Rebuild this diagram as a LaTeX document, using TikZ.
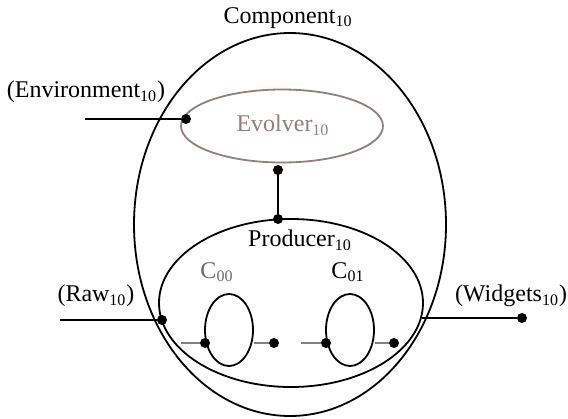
\documentclass[tikz,border=0pt]{standalone}
\usepackage{fontspec}
\setmainfont{Liberation Serif}
\usetikzlibrary{shapes.geometric}
\definecolor{evolvergray}{RGB}{145,128,128}
\definecolor{feedgray}{RGB}{128,128,128}
\definecolor{cgray}{RGB}{105,105,105}
\tikzset{
	part/.style={draw, ellipse, line width=0.9pt, inner sep=0pt},
	port/.style={circle, fill=black, inner sep=0pt, minimum size=5pt},
	wire/.style={line width=0.9pt},
	feed/.style={line width=0.8pt, draw=feedgray},
	lbl/.style={font=\fontsize{12}{14}\selectfont, inner sep=0pt}
}
\begin{document}
\begin{tikzpicture}[x=0.5pt,y=-0.5pt]
		\useasboundingbox (0,0) rectangle (568,418);

		\node[part, minimum width=156pt, minimum height=191.5pt] (component) at (290,224.5) {};
		\node[part, draw=evolvergray, minimum width=101pt, minimum height=36.5pt] (evolver) at (282,126) {};
		\node[part, minimum width=132pt, minimum height=84pt] (producer) at (291,303) {};
		\node[part, minimum width=24pt, minimum height=36pt] (c00) at (229,330) {};
		\node[part, minimum width=24pt, minimum height=36pt] (c01) at (350,330) {};

		\node[lbl] (componentlabel) at (288,18) {Component\textsubscript{10}};
		\node[lbl, text=evolvergray] (evolverlabel) at (283,125) {Evolver\textsubscript{10}};
		\node[lbl] (producerlabel) at (300,240) {Producer\textsubscript{10}};
		\node[lbl, text=cgray] (c00label) at (217,272) {C\textsubscript{00}};
		\node[lbl] (c01label) at (348,272) {C\textsubscript{01}};
		\node[lbl] (envlabel) at (86,92) {(Environment\textsubscript{10})};
		\node[lbl] (rawlabel) at (96,296) {(Raw\textsubscript{10})};
		\node[lbl] (widgetslabel) at (511,296) {(Widgets\textsubscript{10})};

		\coordinate (envend) at (85,119);
		\node[port] (envport) at (186,119) {};
		\draw[wire] (envend) -- (envport);

		\node[port] (evolout) at (278,170) {};
		\node[port] (prodin) at (278,219) {};
		\draw[wire] (evolout) -- (prodin);

		\coordinate (rawend) at (60,320);
		\node[port] (rawport) at (162,320) {};
		\draw[wire] (rawend) -- (rawport);

		\coordinate (prodout) at (422,318);
		\node[port] (widgetsport) at (522,318) {};
		\draw[wire] (prodout) -- (widgetsport);

		\coordinate (c00feed) at (181,343);
		\node[port] (c00in) at (205,343) {};
		\node[port] (c00out) at (274,343) {};
		\draw[feed] (c00feed) -- (c00in);
		\draw[feed] (c00.east |- c00out) -- (c00out);

		\coordinate (c01feed) at (301,343);
		\node[port] (c01in) at (326,343) {};
		\node[port] (c01out) at (394,343) {};
		\draw[feed] (c01feed) -- (c01in);
		\draw[feed] (c01.east |- c01out) -- (c01out);
\end{tikzpicture}
\end{document}
